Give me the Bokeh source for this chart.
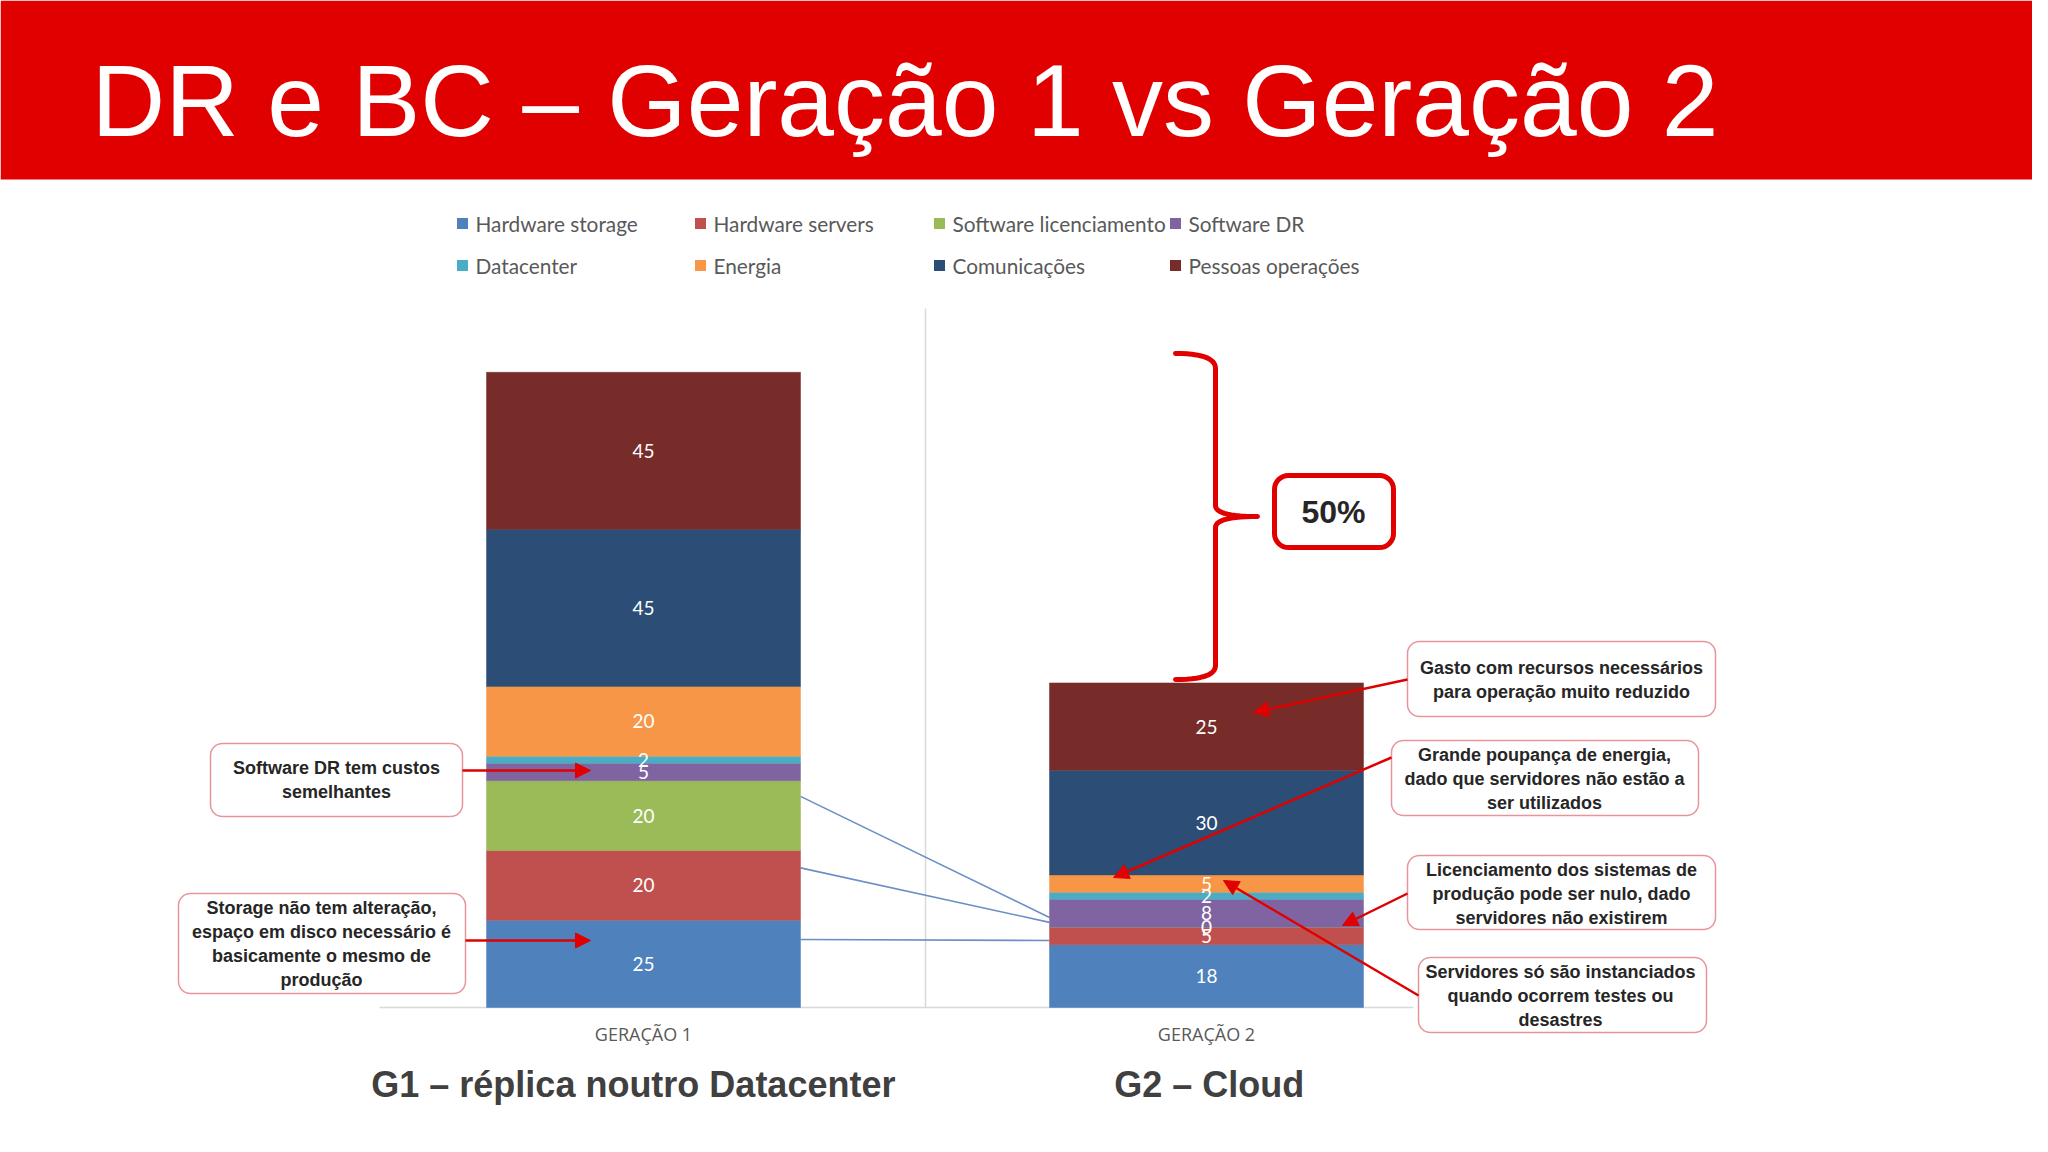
import numpy as np
from bokeh.plotting import figure
from bokeh.models import Range1d, BoxAnnotation, Arrow, NormalHead, ColumnDataSource
from bokeh.core.properties import value
from bokeh.embed import file_html
from bokeh.resources import INLINE

# ------------------------------------------------------------------ data
title = "DR e BC – Geração 1 vs Geração 2"
generations = ["GERAÇÃO 1", "GERAÇÃO 2"]
subtitles = ["G1 – réplica noutro Datacenter", "G2 – Cloud"]
series = ["Hardware storage", "Hardware servers", "Software licenciamento", "Software DR",
          "Datacenter", "Energia", "Comunicações", "Pessoas operações"]
hardware_storage = [25, 18]
hardware_servers = [20, 5]
software_licenciamento = [20, 0]
software_dr = [5, 8]
datacenter = [2, 2]
energia = [20, 5]
comunicacoes = [45, 30]
pessoas_operacoes = [45, 25]
series_colors = ["#4F81BD", "#C0504D", "#9BBB59", "#8064A2",
                 "#4BACC6", "#F79646", "#2C4D75", "#772C2A"]
# connector lines between the two bars (values on each side)
connector_g1 = [60.5, 40.0, 19.5]
connector_g2 = [25.8, 24.4, 19.2]
saving_label = "50%"
callout_texts = [
    "Software DR tem custos\nsemelhantes",
    "Storage não tem alteração,\nespaço em disco necessário é\nbasicamente o mesmo de\nprodução",
    "Gasto com recursos necessários\npara operação muito reduzido",
    "Grande poupança de energia,\ndado que servidores não estão a\nser utilizados",
    "Licenciamento dos sistemas de\nprodução pode ser nulo, dado\nservidores não existirem",
    "Servidores só são instanciados\nquando ocorrem testes ou\ndesastres",
]

values = [hardware_storage, hardware_servers, software_licenciamento, software_dr,
          datacenter, energia, comunicacoes, pessoas_operacoes]

# ------------------------------------------------------------------ layout
W, H = 2032, 1136
RED = "#E00000"
BOX_LINE = "#E8959A"
TEXT_DARK = "#262626"
GRAY = "#595959"


def Y(ry):
    return 1152 - ry


p = figure(width=W, height=H, x_range=Range1d(0, W), y_range=Range1d(1152 - H, 1152),
           output_backend="svg", toolbar_location=None, min_border=0,
           x_axis_location=None, y_axis_location=None, background_fill_color="white",
           border_fill_color="white")
p.grid.visible = False
p.outline_line_color = None

PX = 3.49
BASE = 1007
X0, XSTEP = 643, 563
BAR_W = 314 / XSTEP
p.extra_y_ranges = {"val": Range1d((BASE - H) / PX, BASE / PX)}
p.extra_x_ranges = {"cat": Range1d((0 - X0) / XSTEP, (W - X0) / XSTEP)}

# banner + title
p.quad(left=[0], right=[W], top=[1152], bottom=[Y(179)], fill_color=RED, line_color=None)
p.text(x=[91], y=[Y(100)], text=[title], text_color="white", text_font=value("Liberation Sans"),
       text_font_size="102px", text_baseline="alphabetic", text_align="left")

# legend
for i, (name, col) in enumerate(zip(series, series_colors)):
    c, r = i % 4, i // 4
    mx = [462, 700, 939, 1175][c]
    my = [223, 265][r]
    p.scatter(x=[mx], y=[Y(my)], marker="square", size=11, fill_color=col, line_color=None)
    p.text(x=[mx + 13], y=[Y(my)], text=[name], text_color=GRAY, text_font=value("Lato"),
           text_font_size="20.8px", text_baseline="middle", text_align="left")

# axis baseline and divider
p.segment(x0=[379], y0=[Y(BASE)], x1=[1413], y1=[Y(BASE)], line_color="#D9D9D9", line_width=1.5)
p.segment(x0=[925], y0=[Y(308)], x1=[925], y1=[Y(BASE)], line_color="#D9D9D9", line_width=1.5)

# connector lines
p.segment(x0=[BAR_W / 2] * 3, y0=connector_g1, x1=[1 - BAR_W / 2] * 3, y1=connector_g2,
          line_color="#6A8FC7", line_width=1.6, x_range_name="cat", y_range_name="val")

# stacked bars
data = {"x": [0, 1]}
for name, v in zip(series, values):
    data[name] = v
src = ColumnDataSource(data)
p.vbar_stack(series, x="x", width=BAR_W, fill_color=series_colors, line_color=series_colors,
             line_width=0.5, source=src, x_range_name="cat", y_range_name="val")

# value labels
lx, ly, lt = [], [], []
for g in range(2):
    cum = 0
    for v in values:
        lx.append(g)
        ly.append(cum + v[g] / 2)
        lt.append(str(v[g]))
        cum += v[g]
p.text(x=lx, y=ly, text=lt, text_color="white", text_font=value("Lato"), text_font_size="19px",
       text_align="center", text_baseline="middle", x_range_name="cat", y_range_name="val")

# category labels and subtitles
p.text(x=[0, 1], y=[-26 / PX, -26 / PX], text=generations, text_color=GRAY,
       text_font=value("Open Sans"), text_font_size="18px", text_align="center",
       text_baseline="middle", x_range_name="cat", y_range_name="val")
p.text(x=[-0.018, 1.005], y=[-77 / PX, -77 / PX], text=subtitles, text_color="#404040",
       text_font=value("Liberation Sans"), text_font_style="bold", text_font_size="36px",
       text_align="center", text_baseline="middle", x_range_name="cat", y_range_name="val")

# callout boxes (left, right, top, bottom) and text centres
boxes = [(210, 462, 743, 816), (178, 465, 893, 993), (1407, 1715, 641, 716),
         (1391, 1698, 740, 815), (1407, 1715, 855, 929), (1418, 1706, 957, 1032)]
text_centres = [(336, 779.5), (321, 943), (1561, 679), (1544, 778), (1561, 893), (1560, 995)]
for (l, r, t, b) in boxes:
    p.add_layout(BoxAnnotation(left=l, right=r, top=Y(t), bottom=Y(b), fill_color="white",
                               fill_alpha=1, line_color=BOX_LINE, line_alpha=1, line_width=1.5,
                               border_radius=12, level="underlay"))
p.text(x=[c[0] for c in text_centres], y=[Y(c[1]) for c in text_centres], text=callout_texts,
       text_color=TEXT_DARK, text_font=value("Liberation Sans"), text_font_style="bold",
       text_font_size="18px", text_align="center", text_baseline="middle", text_line_height=1.2)

# arrows
arrows = [((462, 770), (590, 770)), ((465, 940), (590, 940)), ((1407, 679), (1253, 712)),
          ((1391, 757), (1113, 877)), ((1407, 893), (1342, 925)), ((1418, 995), (1223, 880))]
for (s, e) in arrows:
    p.add_layout(Arrow(end=NormalHead(size=15, fill_color=RED, line_color=RED),
                       x_start=s[0], y_start=Y(s[1]), x_end=e[0], y_end=Y(e[1]),
                       line_color=RED, line_width=2.5))

# brace
def qbez(p0, c, p1, n=14):
    t = np.linspace(0, 1, n)
    return ((1 - t) ** 2 * p0[0] + 2 * (1 - t) * t * c[0] + t ** 2 * p1[0],
            (1 - t) ** 2 * p0[1] + 2 * (1 - t) * t * c[1] + t ** 2 * p1[1])

segs = [((1175, 353), (1215, 353), (1215, 368)),
        ((1215, 368), (1215, 437), (1215, 505)),
        ((1215, 505), (1215, 516), (1257, 516)),
        ((1257, 516), (1215, 516), (1215, 527)),
        ((1215, 527), (1215, 597), (1215, 665)),
        ((1215, 665), (1215, 679), (1175, 679))]
bx, by = [], []
for a, c, b in segs:
    xx, yy = qbez(a, c, b)
    bx.extend(xx)
    by.extend(Y(np.array(yy)))
p.line(bx, by, line_color=RED, line_width=5, line_join="round", line_cap="round")

# 50% box
p.add_layout(BoxAnnotation(left=1274, right=1393, top=Y(475), bottom=Y(547), fill_color="white",
                           fill_alpha=1, line_color=RED, line_alpha=1, line_width=5,
                           border_radius=14, level="underlay"))
p.text(x=[1333], y=[Y(511)], text=[saving_label], text_color=TEXT_DARK,
       text_font=value("Liberation Sans"), text_font_style="bold", text_font_size="32px",
       text_align="center", text_baseline="middle")

open("out.html", "w").write(file_html(p, INLINE))
